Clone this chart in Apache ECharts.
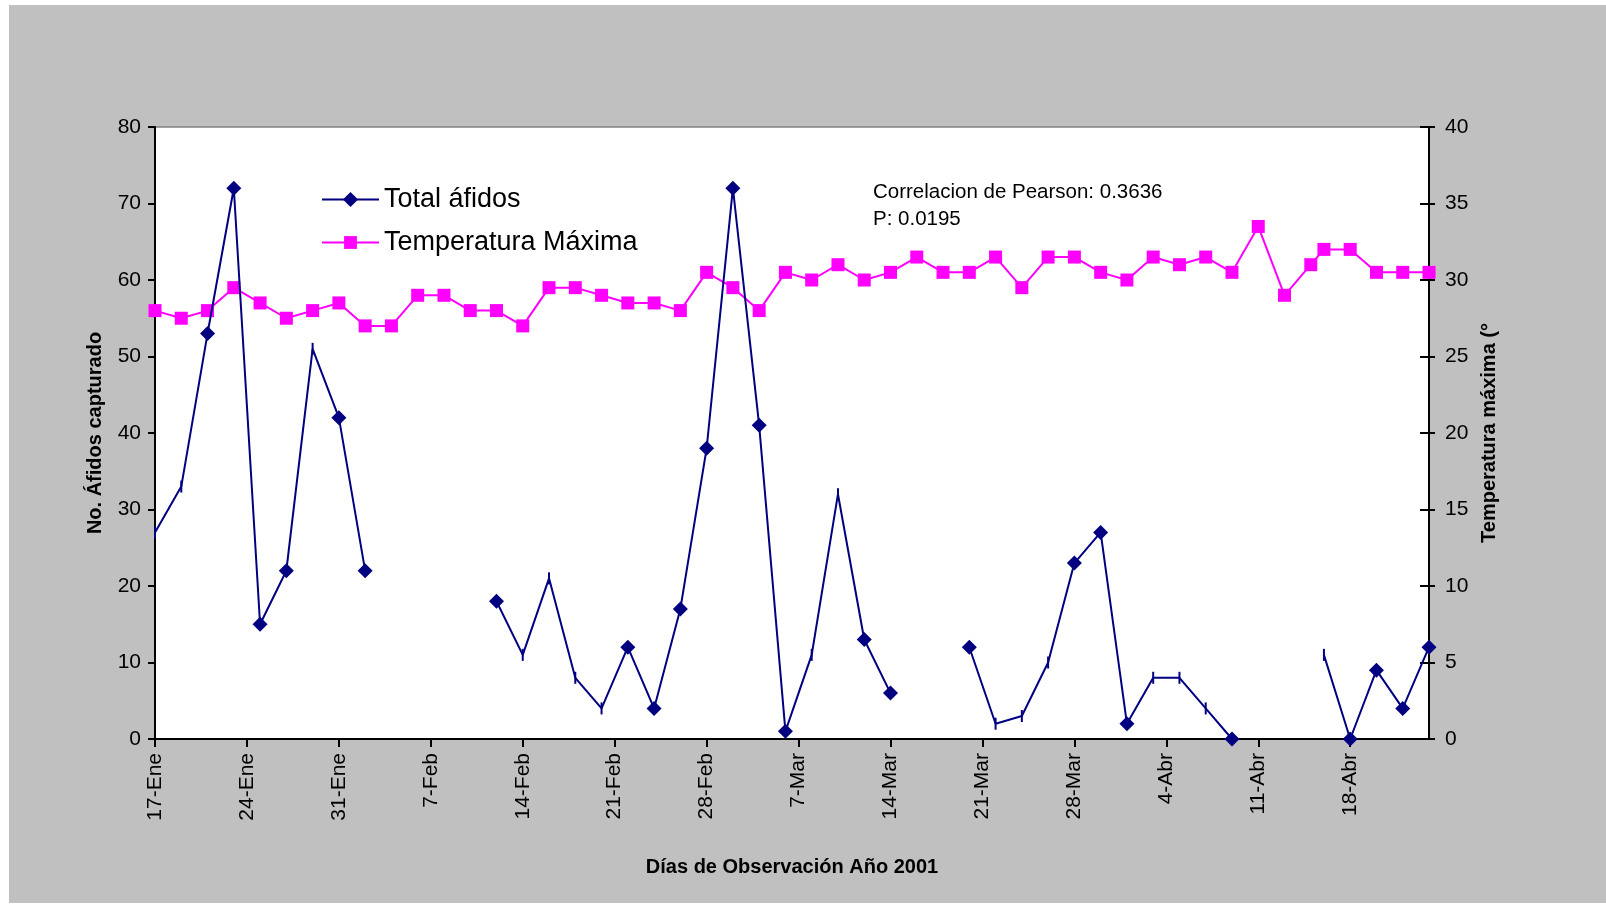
<!DOCTYPE html>
<html lang="es">
<head>
    <meta charset="utf-8" />
    <script src="https://cdn.jsdelivr.net/npm/echarts@6/dist/echarts.min.js"></script>
    <title>afidos_temperatura</title>
    <style>
        body { margin: 0; background: #fff; }
        #main { position: absolute; left: 9px; top: 5px; width: 1597px; height: 898px; }
    </style>
</head>

<body>
<div id="main"></div>
<script type="text/javascript">
    // fechas de observacion (2001)
    const fechas = ['17-Ene','19-Ene','21-Ene','23-Ene','25-Ene','27-Ene','29-Ene','31-Ene',
        '2-Feb','4-Feb','6-Feb','8-Feb','10-Feb','12-Feb','14-Feb','16-Feb','18-Feb','20-Feb',
        '22-Feb','24-Feb','26-Feb','28-Feb','2-Mar','4-Mar','6-Mar','8-Mar','10-Mar','12-Mar',
        '14-Mar','16-Mar','18-Mar','20-Mar','22-Mar','24-Mar','26-Mar','28-Mar','30-Mar',
        '1-Abr','3-Abr','5-Abr','7-Abr','9-Abr','11-Abr','13-Abr','15-Abr','16-Abr','18-Abr',
        '20-Abr','22-Abr','24-Abr'];

    const totalAfidos = [27, 33, 53, 72, 15, 22, 51, 42,
        22, null, null, null, null, 18, 11, 21, 8, 4,
        12, 4, 17, 38, 72, 41, 1, 11, 32, 13,
        6, null, null, 12, 2, 3, 10, 23, 27,
        2, 8, 8, 4, 0, null, null, null, 11, 0,
        9, 4, 12];

    const tempMaxima = [28, 27.5, 28, 29.5, 28.5, 27.5, 28, 28.5,
        27, 27, 29, 29, 28, 28, 27, 29.5, 29.5, 29,
        28.5, 28.5, 28, 30.5, 29.5, 28, 30.5, 30, 31, 30,
        30.5, 31.5, 30.5, 30.5, 31.5, 29.5, 31.5, 31.5, 30.5,
        30, 31.5, 31, 31.5, 30.5, 33.5, 29, 31, 32, 32,
        30.5, 30.5, 30.5];

    // puntos de afidos dibujados solo con una rayita (sin rombo)
    const sinRombo = ['17-Ene','19-Ene','29-Ene','14-Feb','16-Feb','18-Feb','20-Feb',
        '8-Mar','10-Mar','22-Mar','24-Mar','26-Mar','3-Abr','5-Abr','7-Abr','16-Abr'];

    const etiquetasX = ['17-Ene','24-Ene','31-Ene','7-Feb','14-Feb','21-Feb','28-Feb',
        '7-Mar','14-Mar','21-Mar','28-Mar','4-Abr','11-Abr','18-Abr'];

    const inicioMes = { Ene: 0, Feb: 31, Mar: 59, Abr: 90 };
    function dia(f) {
        let p = f.split('-');
        return parseInt(p[0]) + inicioMes[p[1]] - 17;
    }

    const fuente = "'Liberation Sans', Arial, sans-serif";
    const posX = etiquetasX.map(dia);
    let nombrePorDia = {};
    etiquetasX.forEach(function (e) { nombrePorDia[dia(e)] = e; });

    let datosAfidos = fechas.map(function (f, i) {
        let v = totalAfidos[i] === null ? '-' : totalAfidos[i];
        let item = { value: [dia(f), v] };
        if (sinRombo.indexOf(f) >= 0) {
            item.symbol = 'rect';
            item.symbolSize = [2, 12];
        }
        return item;
    });
    let datosTemp = fechas.map(function (f, i) { return [dia(f), tempMaxima[i]]; });

    let myChart = echarts.init(document.getElementById('main'));

    option = {
        backgroundColor: '#c0c0c0',
        animation: false,
        textStyle: { fontFamily: fuente },
        grid: {
            left: 146, top: 122, width: 1274, height: 612,
            show: true, backgroundColor: '#fff', borderColor: '#808080', borderWidth: 1.5
        },
        legend: [{
            data: ['Total áfidos'],
            left: 307, top: 176,
            itemWidth: 57, itemHeight: 19,
            textStyle: { fontSize: 27, color: '#000', fontFamily: fuente }
        }, {
            data: ['Temperatura Máxima'],
            left: 307, top: 219,
            itemWidth: 57, itemHeight: 16,
            textStyle: { fontSize: 27, color: '#000', fontFamily: fuente }
        }],
        graphic: [{
            type: 'text', x: 864, y: 187,
            style: { text: 'Correlacion de Pearson: 0.3636', font: '20.5px ' + fuente, fill: '#000', verticalAlign: 'middle' }
        }, {
            type: 'text', x: 864, y: 214,
            style: { text: 'P: 0.0195', font: '20.5px ' + fuente, fill: '#000', verticalAlign: 'middle' }
        }],
        xAxis: {
            type: 'value',
            min: 0, max: 97, interval: 7,
            name: 'Días de Observación Año 2001',
            nameLocation: 'middle', nameGap: 118,
            nameTextStyle: { fontSize: 20, fontWeight: 'bold', color: '#000', fontFamily: fuente },
            axisLine: { lineStyle: { color: '#000', width: 2 } },
            axisTick: { customValues: posX, length: 8, lineStyle: { color: '#000', width: 2 } },
            axisLabel: {
                customValues: posX,
                rotate: 90, margin: 14, fontSize: 21, color: '#000', fontFamily: fuente,
                formatter: function (v) { return nombrePorDia[v] || ''; }
            },
            splitLine: { show: false }
        },
        yAxis: [{
            type: 'value', min: 0, max: 80, interval: 10,
            name: 'No. Áfidos capturado',
            nameLocation: 'middle', nameGap: 50, nameRotate: 90,
            nameTextStyle: { fontSize: 20, fontWeight: 'bold', color: '#000', fontFamily: fuente },
            axisLine: { show: true, lineStyle: { color: '#000', width: 2 } },
            axisTick: { show: true, length: 7, lineStyle: { color: '#000', width: 2 } },
            axisLabel: { margin: 14, fontSize: 21, color: '#000', fontFamily: fuente },
            splitLine: { show: false }
        }, {
            type: 'value', min: 0, max: 40, interval: 5, position: 'right',
            name: 'Temperatura máxima (°',
            nameLocation: 'middle', nameGap: 50, nameRotate: 90,
            nameTextStyle: { fontSize: 20, fontWeight: 'bold', color: '#000', fontFamily: fuente },
            axisLine: { show: true, lineStyle: { color: '#000', width: 2 } },
            axisTick: { show: true, length: 6, lineStyle: { color: '#000', width: 2 } },
            axisLabel: { margin: 16, fontSize: 21, color: '#000', fontFamily: fuente },
            splitLine: { show: false }
        }, {
            // marcas hacia dentro del eje derecho (cruzadas)
            type: 'value', min: 0, max: 40, interval: 5, position: 'right',
            axisLine: { show: false },
            axisTick: { show: true, inside: true, length: 9, lineStyle: { color: '#000', width: 2 } },
            axisLabel: { show: false },
            splitLine: { show: false }
        }],
        series: [{
            name: 'Temperatura Máxima',
            type: 'line',
            yAxisIndex: 1,
            data: datosTemp,
            symbol: 'rect',
            symbolSize: 13,
            color: '#ff00ff',
            lineStyle: { color: '#ff00ff', width: 2 },
            itemStyle: { color: '#ff00ff' },
            z: 2
        }, {
            name: 'Total áfidos',
            type: 'line',
            yAxisIndex: 0,
            data: datosAfidos,
            connectNulls: false,
            symbol: 'diamond',
            symbolSize: 15,
            color: '#000080',
            lineStyle: { color: '#000080', width: 2 },
            itemStyle: { color: '#000080' },
            z: 3
        }]
    };
    myChart.setOption(option);
</script>
</body>
</html>
